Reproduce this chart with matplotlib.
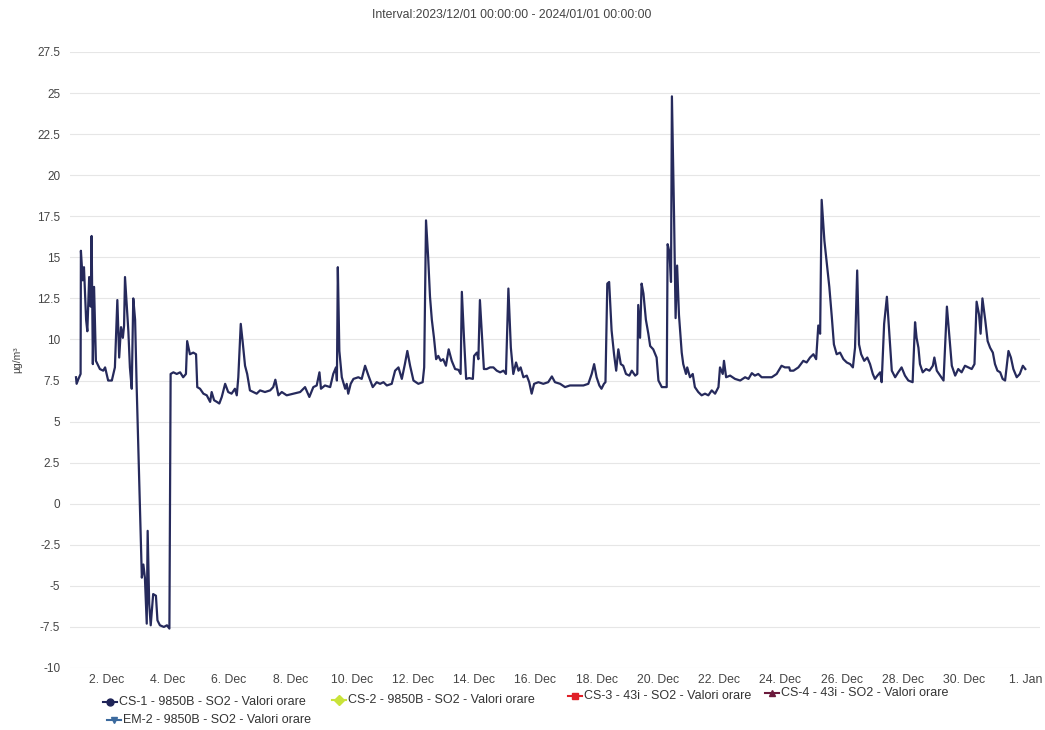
import matplotlib
matplotlib.use("Agg")
import matplotlib.pyplot as plt
from matplotlib.lines import Line2D

plt.rcParams["font.family"] = ["Liberation Sans", "DejaVu Sans"]

# ---- data (days since 2023-12-01 00:00, SO2 in ug/m3) ----
days = [
    0.00, 0.02, 0.08, 0.15, 0.16, 0.22, 0.26, 0.33, 0.37, 0.43, 0.48, 0.51, 0.55, 0.59, 0.65,
    0.78, 0.89, 0.95, 1.05, 1.17, 1.27, 1.35, 1.41, 1.47, 1.53, 1.57, 1.60, 1.71, 1.76, 1.82,
    1.87, 1.93, 1.98, 2.15, 2.20, 2.25, 2.31, 2.34, 2.39, 2.44, 2.52, 2.61, 2.66, 2.74, 2.87,
    2.97, 3.05, 3.09, 3.18, 3.29, 3.40, 3.50, 3.59, 3.63, 3.72, 3.83, 3.92, 3.96, 4.05, 4.16,
    4.27, 4.38, 4.43, 4.51, 4.60, 4.68, 4.76, 4.87, 4.97, 5.08, 5.19, 5.25, 5.30, 5.38, 5.44,
    5.52, 5.59, 5.68, 5.79, 5.90, 6.01, 6.17, 6.34, 6.44, 6.51, 6.61, 6.72, 6.88, 7.10, 7.32,
    7.48, 7.62, 7.75, 7.86, 7.95, 8.00, 8.13, 8.30, 8.40, 8.49, 8.52, 8.55, 8.60, 8.68, 8.79,
    8.84, 8.89, 8.97, 9.06, 9.22, 9.33, 9.44, 9.55, 9.69, 9.82, 9.93, 10.04, 10.15, 10.31, 10.42,
    10.53, 10.64, 10.74, 10.82, 10.91, 11.02, 11.18, 11.32, 11.37, 11.43, 11.50, 11.56, 11.62, 11.69, 11.76,
    11.83, 11.91, 11.99, 12.08, 12.17, 12.27, 12.38, 12.49, 12.56, 12.60, 12.67, 12.74, 12.84, 12.96, 13.00,
    13.09, 13.14, 13.19, 13.25, 13.32, 13.41, 13.52, 13.63, 13.74, 13.85, 13.96, 14.04, 14.12, 14.20, 14.28,
    14.37, 14.45, 14.52, 14.61, 14.72, 14.80, 14.88, 14.96, 15.10, 15.26, 15.42, 15.54, 15.64, 15.81, 15.97,
    16.13, 16.35, 16.57, 16.73, 16.84, 16.92, 17.00, 17.09, 17.16, 17.24, 17.29, 17.35, 17.41, 17.49, 17.57,
    17.64, 17.71, 17.79, 17.87, 17.96, 18.07, 18.15, 18.26, 18.33, 18.36, 18.42, 18.47, 18.53, 18.61, 18.69,
    18.75, 18.85, 18.96, 19.02, 19.13, 19.29, 19.32, 19.38, 19.43, 19.46, 19.53, 19.58, 19.63, 19.69, 19.78,
    19.83, 19.92, 19.96, 20.05, 20.14, 20.21, 20.32, 20.43, 20.54, 20.65, 20.76, 20.87, 20.98, 21.03, 21.12,
    21.16, 21.23, 21.36, 21.52, 21.69, 21.85, 21.96, 22.07, 22.17, 22.28, 22.39, 22.56, 22.72, 22.88, 23.04,
    23.15, 23.29, 23.32, 23.43, 23.59, 23.75, 23.86, 23.97, 24.08, 24.17, 24.24, 24.30, 24.35, 24.44, 24.52,
    24.60, 24.68, 24.75, 24.84, 24.95, 25.06, 25.17, 25.28, 25.37, 25.44, 25.51, 25.57, 25.64, 25.74, 25.84,
    25.93, 26.02, 26.09, 26.17, 26.26, 26.31, 26.39, 26.48, 26.56, 26.64, 26.75, 26.85, 26.96, 27.07, 27.18,
    27.32, 27.40, 27.45, 27.51, 27.56, 27.65, 27.76, 27.87, 27.98, 28.03, 28.11, 28.22, 28.33, 28.44, 28.52,
    28.60, 28.71, 28.81, 28.92, 29.03, 29.14, 29.25, 29.34, 29.41, 29.49, 29.54, 29.60, 29.69, 29.77, 29.85,
    29.94, 30.01, 30.09, 30.18, 30.26, 30.34, 30.45, 30.53, 30.61, 30.72, 30.82, 30.92, 31.00,
]
so2_cs1 = [
    7.7, 7.3, 7.6, 7.9, 15.4, 13.6, 14.4, 11.2, 10.5, 13.8, 12.0, 16.3, 8.5, 13.2, 8.7,
    8.2, 8.1, 8.3, 7.5, 7.5, 8.3, 12.4, 8.9, 10.75, 10.1, 10.85, 13.8, 10.5, 8.3, 7.0,
    12.5, 11.2, 7.2, -4.5, -3.7, -4.5, -7.3, -1.65, -6.1, -7.4, -5.5, -5.6, -7.1, -7.4, -7.5,
    -7.4, -7.6, 7.9, 8.0, 7.9, 8.0, 7.7, 7.9, 9.9, 9.1, 9.2, 9.1, 7.1, 7.0, 6.7,
    6.6, 6.2, 6.8, 6.3, 6.2, 6.1, 6.5, 7.3, 6.8, 6.7, 7.0, 6.6, 7.7, 10.95, 9.9,
    8.4, 7.9, 6.9, 6.8, 6.7, 6.9, 6.8, 6.9, 7.1, 7.55, 6.6, 6.8, 6.6, 6.7, 6.8,
    7.1, 6.5, 7.1, 7.2, 8.0, 7.0, 7.2, 7.1, 7.9, 8.3, 7.5, 14.4, 9.3, 7.7, 7.0,
    7.3, 6.7, 7.3, 7.6, 7.7, 7.6, 8.4, 7.8, 7.1, 7.4, 7.3, 7.4, 7.2, 7.3, 8.1,
    8.3, 7.6, 8.5, 9.3, 8.4, 7.5, 7.3, 7.4, 8.3, 17.25, 15.0, 12.6, 11.2, 10.1, 8.8,
    9.0, 8.7, 8.8, 8.4, 9.4, 8.7, 8.2, 8.15, 7.9, 12.9, 10.1, 7.6, 7.65, 7.6, 9.0,
    9.2, 8.8, 12.4, 10.5, 8.2, 8.2, 8.3, 8.3, 8.1, 8.0, 8.1, 7.9, 13.1, 9.5, 7.9,
    8.6, 8.1, 8.3, 7.7, 7.8, 7.4, 6.7, 7.3, 7.4, 7.3, 7.4, 7.75, 7.4, 7.3, 7.1,
    7.2, 7.2, 7.2, 7.3, 7.9, 8.5, 7.7, 7.2, 7.0, 7.3, 7.4, 13.4, 13.5, 10.55, 9.1,
    8.1, 9.4, 8.5, 8.4, 7.9, 7.8, 8.1, 7.8, 7.9, 12.1, 10.1, 13.4, 12.8, 11.2, 10.35,
    9.6, 9.4, 8.9, 7.5, 7.1, 7.1, 15.8, 15.3, 13.5, 24.8, 17.5, 11.3, 14.5, 11.5, 9.2,
    8.5, 7.9, 8.3, 7.7, 7.9, 7.1, 6.8, 6.6, 6.7, 6.6, 6.9, 6.7, 7.1, 8.3, 7.9,
    8.7, 7.7, 7.8, 7.6, 7.5, 7.7, 7.6, 7.95, 7.8, 7.9, 7.7, 7.7, 7.7, 7.9, 8.4,
    8.3, 8.3, 8.1, 8.1, 8.3, 8.7, 8.6, 8.9, 9.1, 8.8, 10.85, 10.35, 18.5, 16.0, 14.6,
    13.2, 11.4, 9.7, 9.1, 9.2, 8.8, 8.6, 8.5, 8.3, 9.5, 14.2, 9.7, 9.1, 8.7, 8.9,
    8.5, 7.9, 7.6, 7.8, 8.0, 7.4, 10.95, 12.6, 10.35, 8.1, 7.7, 8.0, 8.3, 7.8, 7.5,
    7.4, 11.05, 10.1, 9.5, 8.5, 8.0, 8.2, 8.1, 8.4, 8.9, 8.1, 7.8, 7.5, 12.0, 10.2,
    8.4, 7.8, 8.2, 8.0, 8.4, 8.3, 8.2, 8.5, 12.3, 11.5, 10.35, 12.5, 11.2, 9.9, 9.5,
    9.2, 8.5, 8.1, 8.0, 7.6, 7.5, 9.3, 8.9, 8.2, 7.7, 7.9, 8.4, 8.2,
]

tick_days = [1, 3, 5, 7, 9, 11, 13, 15, 17, 19, 21, 23, 25, 27, 29, 31]
tick_labels = ["2. Dec", "4. Dec", "6. Dec", "8. Dec", "10. Dec", "12. Dec", "14. Dec",
               "16. Dec", "18. Dec", "20. Dec", "22. Dec", "24. Dec", "26. Dec",
               "28. Dec", "30. Dec", "1. Jan"]
y_ticks = [-10, -7.5, -5, -2.5, 0, 2.5, 5, 7.5, 10, 12.5, 15, 17.5, 20, 22.5, 25, 27.5]

legend_names = ["CS-1 - 9850B - SO2 - Valori orare", "CS-2 - 9850B - SO2 - Valori orare",
                "CS-3 - 43i - SO2 - Valori orare", "CS-4 - 43i - SO2 - Valori orare",
                "EM-2 - 9850B - SO2 - Valori orare"]
legend_colors = ["#1f2458", "#c9e33a", "#e02028", "#6b1a3c", "#3b6a9e"]
legend_markers = ["o", "D", "s", "^", "v"]

title = "Interval:2023/12/01 00:00:00 - 2024/01/01 00:00:00"

# ---- figure ----
W, H = 1045, 730
fig = plt.figure(figsize=(W / 100, H / 100), dpi=100)
fig.patch.set_facecolor("white")
ax = fig.add_axes([70 / W, 1 - 668 / H, 970 / W, (668 - 52) / H])

ax.plot(days, so2_cs1, color="#262a5c", lw=1.6, solid_joinstyle="round")

ax.set_xlim(-0.196, 31.48)
ax.set_ylim(-10, 27.5)
ax.set_yticks(y_ticks)
ax.set_yticklabels([("%g" % v) for v in y_ticks])
ax.set_xticks(tick_days)
ax.set_xticklabels(tick_labels)
ax.tick_params(axis="both", length=0, labelsize=8.8, labelcolor="#444444")
ax.tick_params(axis="y", pad=7, labelsize=8.5)
ax.tick_params(axis="x", pad=4)
ax.grid(axis="y", color="#e6e6e6", lw=0.8)
ax.set_axisbelow(True)
for s in ax.spines.values():
    s.set_visible(False)

fig.text(17 / W, 1 - 360 / H, "µg/m³", rotation=90, ha="center", va="center",
         fontsize=7.5, color="#444444")
fig.text(512 / W, 1 - 15 / H, title, ha="center", va="center", fontsize=8.8, color="#444444")

# ---- legend (manual layout, Highcharts-like) ----
entries = [(110, 702), (339, 700), (575, 696), (772, 693), (114, 720)]
for (x, y), name, col, mk in zip(entries, legend_names, legend_colors, legend_markers):
    fx, fy = x / W, 1 - y / H
    fig.add_artist(Line2D([fx - 7 / W, fx + 7 / W], [fy, fy], transform=fig.transFigure,
                          color=col, lw=1.5))
    fig.add_artist(Line2D([fx], [fy], transform=fig.transFigure, color=col,
                          marker=mk, markersize=5, lw=0))
    fig.text(fx + 9 / W, fy, name, ha="left", va="center", fontsize=9, color="#333333")

fig.savefig("out.png", dpi=100)
